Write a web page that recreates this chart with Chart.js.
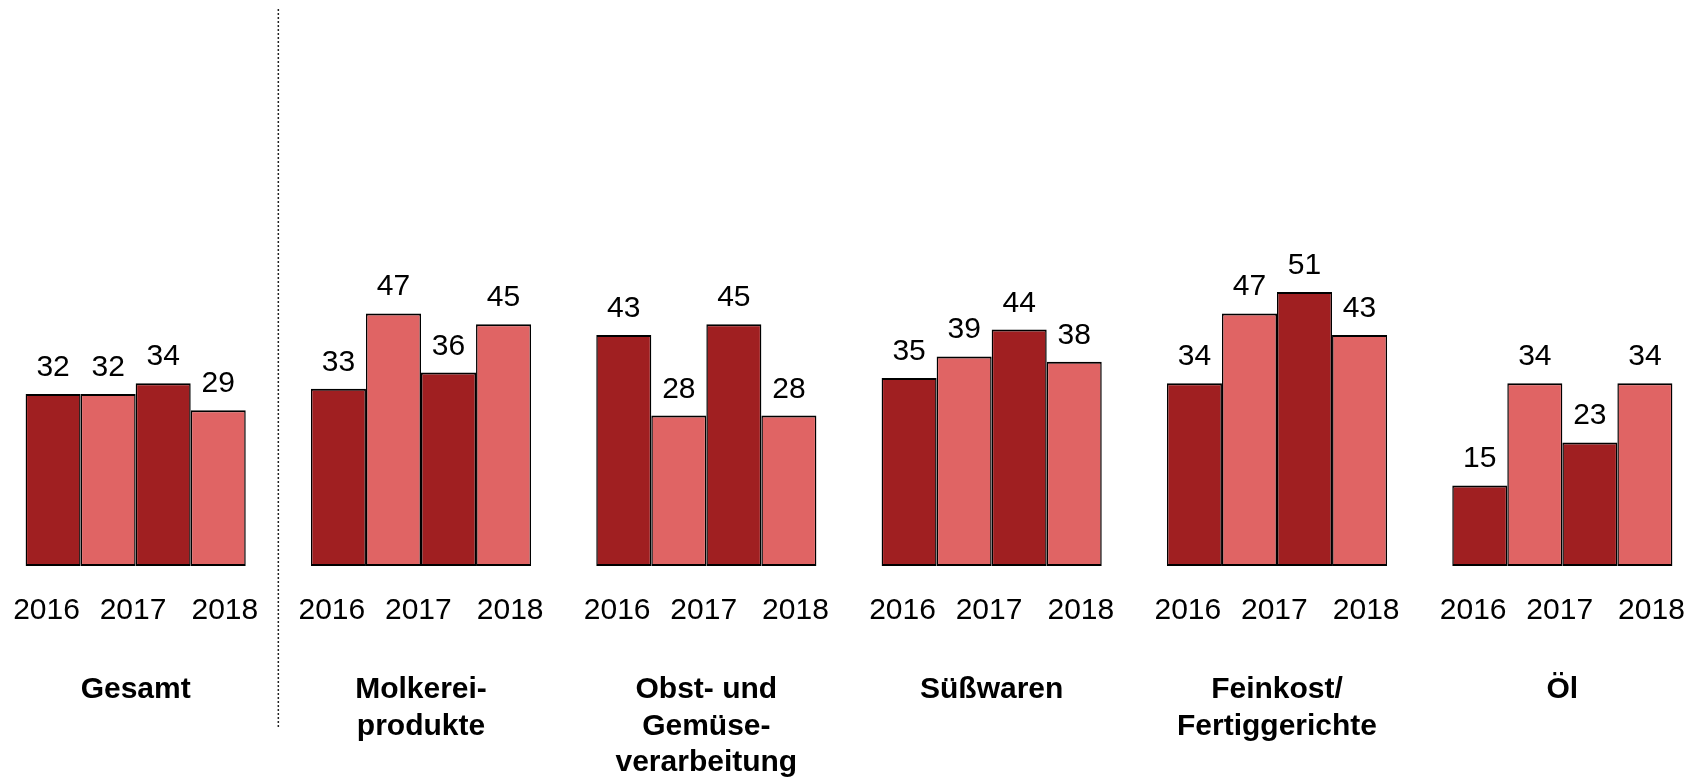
<!DOCTYPE html>
<html lang="de">
<head>
<meta charset="utf-8">
<title>Balkendiagramm</title>
<script src="https://cdn.jsdelivr.net/npm/chart.js@4"></script>
<style>
    html, body { margin: 0; padding: 0; background: #fff; overflow: hidden; }
    #wrap { position: absolute; left: -7px; top: 0; width: 1712px; height: 779px; }
</style>
</head>
<body>
<div id="wrap"><canvas id="chart"></canvas></div>
<script>
// Kategorien (Gruppen) und Jahresbeschriftungen
const categories = [
    ['Gesamt'],
    ['Molkerei-', 'produkte'],
    ['Obst- und', 'Gemüse-', 'verarbeitung'],
    ['Süßwaren'],
    ['Feinkost/', 'Fertiggerichte'],
    ['Öl']
];
const yearLabels = ['2016', '2017', '2018'];

// Werte je Balkenposition innerhalb einer Gruppe
const bar1Values = [32, 33, 43, 35, 34, 15];
const bar2Values = [32, 47, 28, 39, 47, 34];
const bar3Values = [34, 36, 45, 44, 51, 23];
const bar4Values = [29, 45, 28, 38, 43, 34];

const COLORS = {
    dunkel: '#a01f21',
    hell: '#e06464',
    rand: '#000000'
};
const FONT = '"Liberation Sans", Arial, sans-serif';

function makeDataset(label, values, color) {
    return {
        label: label,
        data: values,
        backgroundColor: color,
        borderColor: COLORS.rand,
        borderWidth: { top: 2, bottom: 2, left: 1.5, right: 1.5 },
        borderSkipped: false,
        categoryPercentage: 0.7715,
        barPercentage: 1.0
    };
}

// Beschriftungen: Werte über den Balken, Jahre und Kategorien darunter, Trennlinie
const labelPlugin = {
    id: 'labelPlugin',
    afterDatasetsDraw(chart) {
        const ctx = chart.ctx;
        const xScale = chart.scales.x;
        ctx.save();
        ctx.fillStyle = '#000';
        ctx.textAlign = 'center';
        ctx.textBaseline = 'alphabetic';

        // Werte über jedem Balken
        ctx.font = '30px ' + FONT;
        chart.data.datasets.forEach((ds, i) => {
            chart.getDatasetMeta(i).data.forEach((bar, j) => {
                ctx.fillText(String(ds.data[j]), bar.x, bar.y - 18);
            });
        });

        const catWidth = xScale.width / categories.length;
        const groupWidth = catWidth * 0.7715;
        const yearOffsets = [-0.405, -0.012, 0.405];

        categories.forEach((lines, i) => {
            const cx = xScale.getPixelForValue(i);
            ctx.font = '30px ' + FONT;
            yearLabels.forEach((yr, k) => {
                ctx.fillText(yr, cx + yearOffsets[k] * groupWidth, 619);
            });
            ctx.font = 'bold 30px ' + FONT;
            lines.forEach((line, k) => {
                ctx.fillText(line, cx, 698 + k * 36.5);
            });
        });

        // gepunktete Trennlinie zwischen Gesamt und Branchen
        const sepX = (xScale.getPixelForValue(0) + xScale.getPixelForValue(1)) / 2;
        ctx.strokeStyle = '#222';
        ctx.lineWidth = 1.5;
        ctx.setLineDash([2, 2]);
        ctx.beginPath();
        ctx.moveTo(sepX, 9);
        ctx.lineTo(sepX, 727);
        ctx.stroke();
        ctx.restore();
    }
};

new Chart(document.getElementById('chart').getContext('2d'), {
    type: 'bar',
    data: {
        labels: categories.map(c => c.join(' ')),
        datasets: [
            makeDataset('Balken 1', bar1Values, COLORS.dunkel),
            makeDataset('Balken 2', bar2Values, COLORS.hell),
            makeDataset('Balken 3', bar3Values, COLORS.dunkel),
            makeDataset('Balken 4', bar4Values, COLORS.hell)
        ]
    },
    options: {
        responsive: true,
        maintainAspectRatio: false,
        animation: false,
        layout: { padding: { top: 28.5, bottom: 213, left: 0, right: 0 } },
        scales: {
            x: { display: false, offset: true, grid: { display: false } },
            y: { display: false, min: 0, max: 100 }
        },
        plugins: {
            legend: { display: false },
            tooltip: { enabled: false }
        }
    },
    plugins: [labelPlugin]
});
</script>
</body>
</html>
